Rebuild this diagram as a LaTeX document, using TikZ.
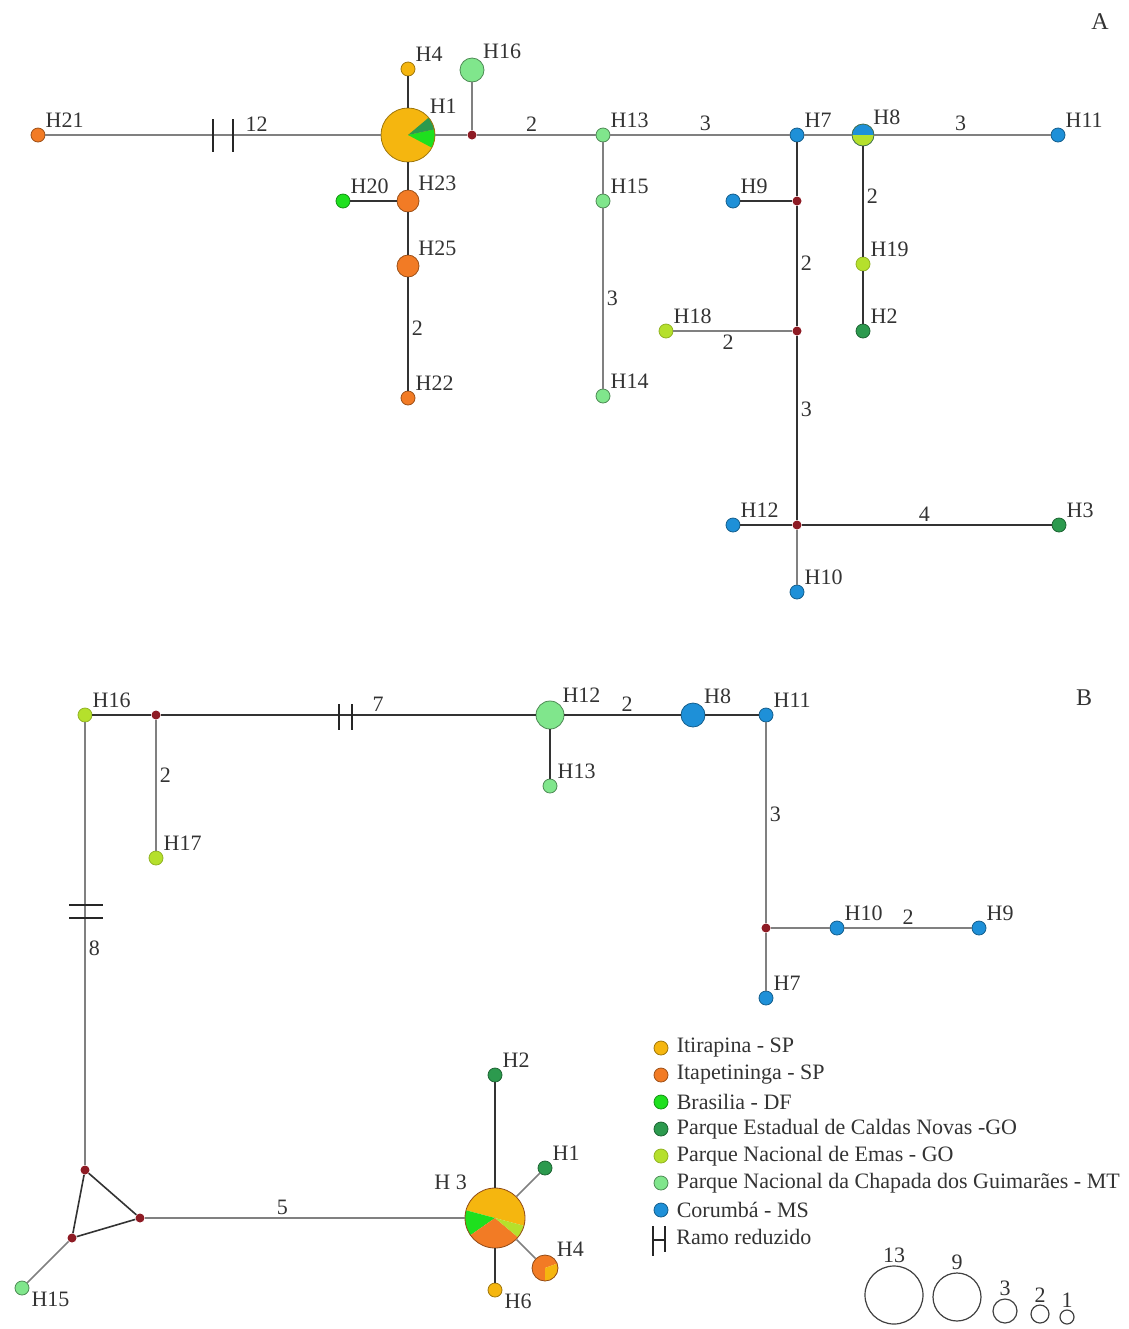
\documentclass[tikz,border=0pt]{standalone}
\usepackage{fontspec}
\setmainfont{Liberation Serif}
\usetikzlibrary{positioning, backgrounds}
\definecolor{Itirapina}{HTML}{F5B60F}
\definecolor{Itapetininga}{HTML}{F27B25}
\definecolor{Brasilia}{HTML}{1EE01E}
\definecolor{CaldasNovas}{HTML}{2C9A4E}
\definecolor{Emas}{HTML}{B5E02C}
\definecolor{Chapada}{HTML}{80E68C}
\definecolor{Corumba}{HTML}{1E90D8}
\definecolor{MedianRed}{HTML}{8E1B24}
\newcommand{\hapslice}[5]{\fill[#5] (#1) -- ++(#3:#2) arc[start angle=#3, end angle=#4, radius=#2] -- cycle;}

\begin{document}
\begin{tikzpicture}[
            x=0.5pt, y=-0.5pt,
            hap/.style = {circle, inner sep=0pt, minimum size=7pt, line width=0.4pt},
            itira/.style = {fill=Itirapina, draw=Itirapina!65!black},
            itape/.style = {fill=Itapetininga, draw=Itapetininga!65!black},
            brasil/.style = {fill=Brasilia, draw=Brasilia!65!black},
            caldas/.style = {fill=CaldasNovas, draw=CaldasNovas!65!black},
            emas/.style = {fill=Emas, draw=Emas!80!black},
            chapada/.style = {fill=Chapada, draw=Chapada!60!black},
            corumba/.style = {fill=Corumba, draw=Corumba!65!black},
            mv/.style = {circle, fill=MedianRed, inner sep=0pt, minimum size=4.5pt},
            link/.style = {draw=black!50, line width=0.8pt},
            linkdark/.style = {draw=black!80, line width=0.8pt},
            hash/.style = {draw=black!85, line width=0.8pt},
            lbl/.style = {font=\fontsize{11}{12}\selectfont, text=black!80, inner sep=1pt},
            mut/.style = {font=\fontsize{11}{12}\selectfont, text=black!80, inner sep=1.5pt},
            sizeref/.style = {circle, draw=black!75, line width=0.6pt, inner sep=0pt}
        ]
            \useasboundingbox (0,0) rectangle (1129,1329);

            % ---- network A
            \node [lbl, font=\fontsize{12}{13}\selectfont] (panelA) at (1100,22) {A};
            \node [hap, itape, label={[lbl]above right:H21}] (a21) at (38,135) {};
            \node [hap, minimum size=27pt, draw=Itirapina!65!black, label={[lbl]above right:H1}] (a1) at (408,135) {};
            \node [hap, itira, label={[lbl]above right:H4}] (a4) at (408,69) {};
            \node [mv] (am1) at (472,135) {};
            \node [hap, chapada, minimum size=12pt, label={[lbl]above right:H16}] (a16) at (472,70) {};
            \node [hap, chapada, label={[lbl]above right:H13}] (a13) at (603,135) {};
            \node [hap, corumba, label={[lbl]above right:H7}] (a7) at (797,135) {};
            \node [hap, minimum size=11pt, draw=Corumba!50!Emas!60!black, label={[lbl]above right:H8}] (a8) at (863,135) {};
            \node [hap, corumba, label={[lbl]above right:H11}] (a11) at (1058,135) {};
            \node [hap, itape, minimum size=11pt, label={[lbl]above right:H23}] (a23) at (408,201) {};
            \node [hap, brasil, label={[lbl]above right:H20}] (a20) at (343,201) {};
            \node [hap, itape, minimum size=11pt, label={[lbl]above right:H25}] (a25) at (408,266) {};
            \node [hap, itape, label={[lbl]above right:H22}] (a22) at (408,398) {};
            \node [hap, chapada, label={[lbl]above right:H15}] (a15) at (603,201) {};
            \node [hap, chapada, label={[lbl]above right:H14}] (a14) at (603,396) {};
            \node [mv] (am2) at (797,201) {};
            \node [hap, corumba, label={[lbl]above right:H9}] (a9) at (733,201) {};
            \node [mv] (am3) at (797,331) {};
            \node [hap, emas, label={[lbl]above right:H18}] (a18) at (666,331) {};
            \node [mv] (am4) at (797,525) {};
            \node [hap, corumba, label={[lbl]above right:H12}] (a12) at (733,525) {};
            \node [hap, caldas, label={[lbl]above right:H3}] (a3) at (1059,525) {};
            \node [hap, corumba, label={[lbl]above right:H10}] (a10) at (797,592) {};
            \node [hap, emas, label={[lbl]above right:H19}] (a19) at (863,264) {};
            \node [hap, caldas, label={[lbl]above right:H2}] (a2) at (863,331) {};

            \begin{scope}[on background layer]
                \fill[Itirapina] (a1.center) circle[radius=13.5pt];
                \hapslice{a1.center}{13.5pt}{-28}{12}{Brasilia}
                \hapslice{a1.center}{13.5pt}{12}{40}{CaldasNovas}
                \hapslice{a8.center}{5.5pt}{0}{180}{Corumba}
                \hapslice{a8.center}{5.5pt}{180}{360}{Emas}
            \end{scope}

            \draw [link] (a21) -- node[mut, pos=0.63, above] {12} (a1);
            \draw [hash] (213,119) -- (213,152) (233,119) -- (233,152);
            \draw [linkdark] (a1) -- (a4);
            \draw [link] (a1) -- (am1);
            \draw [link] (am1) -- (a16);
            \draw [link] (am1) -- node[mut, pos=0.46, above] {2} (a13);
            \draw [link] (a13) -- node[mut, pos=0.53, above] {3} (a7);
            \draw [link] (a7) -- (a8);
            \draw [link] (a8) -- node[mut, pos=0.49, above] {3} (a11);
            \draw [linkdark] (a1) -- (a23);
            \draw [linkdark] (a20) -- (a23);
            \draw [linkdark] (a23) -- (a25);
            \draw [linkdark] (a25) -- node[mut, pos=0.45, right] {2} (a22);
            \draw [link] (a13) -- (a15);
            \draw [link] (a15) -- node[mut, pos=0.5, right] {3} (a14);
            \draw [linkdark] (a7) -- (am2);
            \draw [linkdark] (am2) -- (a9);
            \draw [linkdark] (am2) -- node[mut, pos=0.48, right] {2} (am3);
            \draw [link] (am3) -- node[mut, pos=0.54, below] {2} (a18);
            \draw [linkdark] (am3) -- node[mut, pos=0.4, right] {3} (am4);
            \draw [linkdark] (am4) -- (a12);
            \draw [linkdark] (am4) -- node[mut, pos=0.49, above] {4} (a3);
            \draw [link] (am4) -- (a10);
            \draw [linkdark] (a8) -- node[mut, pos=0.45, right] {2} (a19);
            \draw [linkdark] (a19) -- (a2);

            % ---- network B
            \node [lbl, font=\fontsize{12}{13}\selectfont] (panelB) at (1084,698) {B};
            \node [hap, emas, label={[lbl]above right:H16}] (b16) at (85,715) {};
            \node [mv] (bm1) at (156,715) {};
            \node [hap, emas, label={[lbl]above right:H17}] (b17) at (156,858) {};
            \node [hap, chapada, minimum size=14pt, label={[lbl]above right:H12}] (b12) at (550,715) {};
            \node [hap, chapada, label={[lbl]above right:H13}] (b13) at (550,786) {};
            \node [hap, corumba, minimum size=12pt, label={[lbl]above right:H8}] (b8) at (693,715) {};
            \node [hap, corumba, label={[lbl]above right:H11}] (b11) at (766,715) {};
            \node [mv] (bm2) at (766,928) {};
            \node [hap, corumba, label={[lbl]above right:H10}] (b10) at (837,928) {};
            \node [hap, corumba, label={[lbl]above right:H9}] (b9) at (979,928) {};
            \node [hap, corumba, label={[lbl]above right:H7}] (b7) at (766,998) {};
            \node [mv] (bt1) at (85,1170) {};
            \node [mv] (bt2) at (140,1218) {};
            \node [mv] (bt3) at (72,1238) {};
            \node [hap, chapada, label={[lbl]-15:H15}] (b15) at (22,1288) {};
            \node [hap, minimum size=30pt, draw=Itapetininga!60!black, label={[lbl, label distance=3pt]above left:H 3}] (b3) at (495,1218) {};
            \node [hap, caldas, label={[lbl]above right:H2}] (b2) at (495,1075) {};
            \node [hap, caldas, label={[lbl]above right:H1}] (b1) at (545,1168) {};
            \node [hap, minimum size=13pt, draw=Itapetininga!60!black, label={[lbl]above right:H4}] (b4) at (545,1268) {};
            \node [hap, itira, label={[lbl]-10:H6}] (b6) at (495,1290) {};

            \begin{scope}[on background layer]
                \hapslice{b3.center}{15pt}{-15}{165}{Itirapina}
                \hapslice{b3.center}{15pt}{165}{215}{Brasilia}
                \hapslice{b3.center}{15pt}{215}{320}{Itapetininga}
                \hapslice{b3.center}{15pt}{320}{345}{Emas}
                \hapslice{b4.center}{6.5pt}{20}{270}{Itapetininga}
                \hapslice{b4.center}{6.5pt}{-90}{20}{Itirapina}
            \end{scope}

            \draw [linkdark] (b16) -- (bm1);
            \draw [linkdark] (bm1) -- node[mut, pos=0.58, above] {7} (b12);
            \draw [hash] (339,704) -- (339,730) (352,704) -- (352,730);
            \draw [link] (bm1) -- node[mut, pos=0.42, right] {2} (b17);
            \draw [linkdark] (b12) -- (b13);
            \draw [linkdark] (b12) -- node[mut, pos=0.54, above] {2} (b8);
            \draw [linkdark] (b8) -- (b11);
            \draw [link] (b11) -- node[mut, pos=0.46, right] {3} (bm2);
            \draw [link] (bm2) -- (b10);
            \draw [link] (b10) -- node[mut, pos=0.5, above] {2} (b9);
            \draw [link] (bm2) -- (b7);
            \draw [link] (b16) -- node[mut, pos=0.51, right] {8} (bt1);
            \draw [hash] (69,905) -- (103,905) (69,918) -- (103,918);
            \draw [linkdark] (bt1) -- (bt2);
            \draw [linkdark] (bt2) -- (bt3);
            \draw [linkdark] (bt3) -- (bt1);
            \draw [link] (bt3) -- (b15);
            \draw [link] (bt2) -- node[mut, pos=0.43, above] {5} (b3);
            \draw [linkdark] (b3) -- (b2);
            \draw [link] (b3) -- (b1);
            \draw [link] (b3) -- (b4);
            \draw [linkdark] (b3) -- (b6);

            % ---- legend
            \node [hap, itira] (lg1) at (661,1048) {};
            \node [lbl, right=3pt of lg1] (lt1) {Itirapina - SP};
            \node [hap, itape] (lg2) at (661,1075) {};
            \node [lbl, right=3pt of lg2] (lt2) {Itapetininga - SP};
            \node [hap, brasil] (lg3) at (661,1102) {};
            \node [lbl, right=3pt of lg3] (lt3) {Brasilia - DF};
            \node [hap, caldas] (lg4) at (661,1129) {};
            \node [lbl, right=3pt of lg4] (lt4) {Parque Estadual de Caldas Novas -GO};
            \node [hap, emas] (lg5) at (661,1156) {};
            \node [lbl, right=3pt of lg5] (lt5) {Parque Nacional de Emas - GO};
            \node [hap, chapada] (lg6) at (661,1183) {};
            \node [lbl, right=3pt of lg6] (lt6) {Parque Nacional da Chapada dos Guimarães - MT};
            \node [hap, corumba] (lg7) at (661,1210) {};
            \node [lbl, right=3pt of lg7] (lt7) {Corumbá - MS};
            \draw [hash, line width=0.6pt] (653,1226) -- (653,1256) (653,1240) -- (665,1240) (665,1226) -- (665,1252);
            \node [lbl, anchor=west] (lt8) at (674,1237) {Ramo reduzido};

            % ---- circle sizes
            \node [sizeref, minimum size=29pt, label={[lbl]above:13}] (s13) at (894,1295) {};
            \node [sizeref, minimum size=24pt, label={[lbl]above:9}] (s9) at (957,1297) {};
            \node [sizeref, minimum size=12pt, label={[lbl]above:3}] (s3) at (1005,1311) {};
            \node [sizeref, minimum size=9pt, label={[lbl]above:2}] (s2) at (1040,1314) {};
            \node [sizeref, minimum size=7pt, label={[lbl]above:1}] (s1) at (1067,1317) {};
        \end{tikzpicture}
\end{document}
